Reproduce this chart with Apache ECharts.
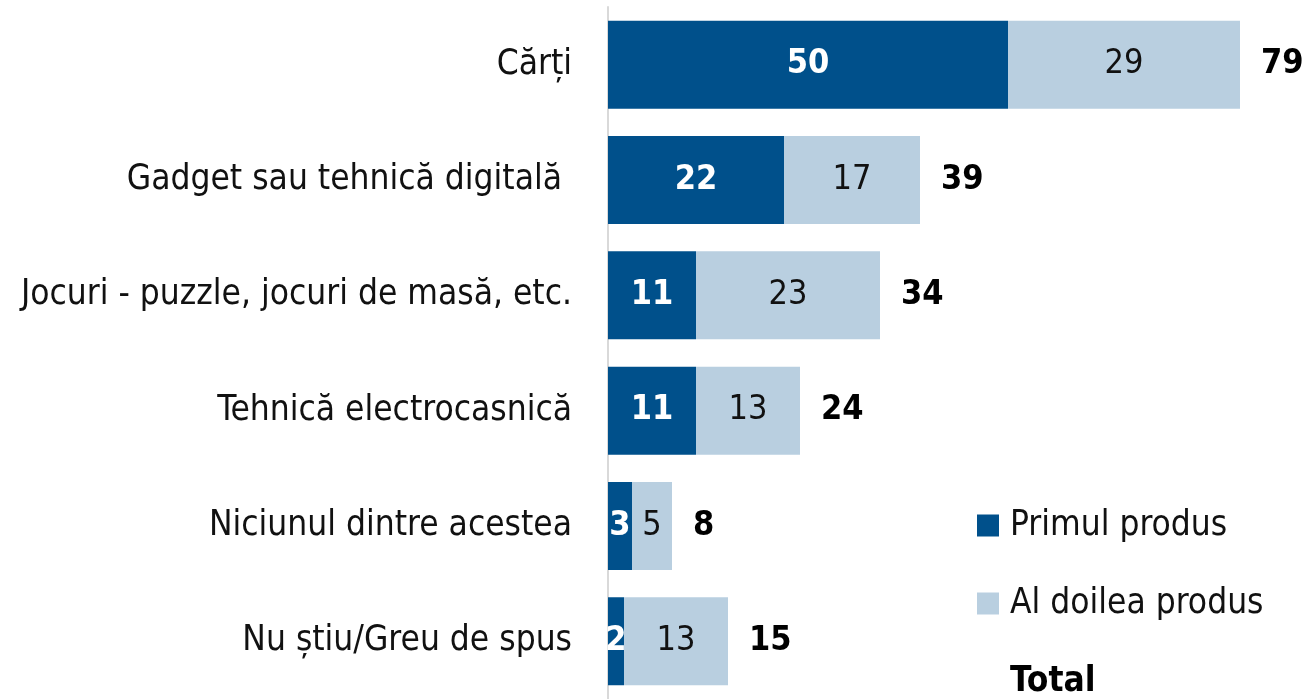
<!DOCTYPE html>
<html>
<head>
<meta charset="utf-8">
<script src="https://cdn.jsdelivr.net/npm/echarts@6/dist/echarts.min.js"></script>
<style>
  html, body { margin: 0; padding: 0; background: #fff; }
  #chart { width: 1307px; height: 699px; }
</style>
</head>
<body>
<div id="chart"></div>
<script>
const categories = [
  'Cărți',
  'Gadget sau tehnică digitală ',
  'Jocuri - puzzle, jocuri de masă, etc.',
  'Tehnică electrocasnică',
  'Niciunul dintre acestea',
  'Nu știu/Greu de spus'
];
const primulProdus = [50, 22, 11, 11, 3, 2];
const alDoileaProdus = [29, 17, 23, 13, 5, 13];
const totalValues = [79, 39, 34, 24, 8, 15];

const FONT = '"DejaVu Sans Condensed", "DejaVu Sans", sans-serif';
const DARK = '#00508b';
const LIGHT = '#b9cfe0';

const chart = echarts.init(document.getElementById('chart'), null, { renderer: 'canvas' });
chart.setOption({
  animation: false,
  textStyle: { fontFamily: FONT },
  grid: { left: 608, top: 7, width: 640, bottom: -8, containLabel: false },
  legend: {
    orient: 'vertical',
    left: 977,
    top: 508,
    height: 200,
    padding: 0,
    itemWidth: 22,
    itemHeight: 22,
    itemGap: 43,
    icon: 'rect',
    selectedMode: false,
    textStyle: { fontFamily: FONT, fontSize: 35, color: '#111', padding: [0, 0, 0, 6] },
    data: [
      { name: 'Primul produs' },
      { name: 'Al doilea produs' },
      { name: 'Total', itemStyle: { opacity: 0 }, textStyle: { fontWeight: 'bold', fontSize: 35, color: '#000', padding: [0, 0, 0, 6] } }
    ]
  },
  xAxis: {
    type: 'value',
    min: 0,
    max: 80,
    show: false
  },
  yAxis: {
    type: 'category',
    data: categories,
    inverse: true,
    axisLine: { show: true, lineStyle: { color: '#d9d9d9', width: 2 } },
    axisTick: { show: false },
    axisLabel: { fontFamily: FONT, fontSize: 35, color: '#111', margin: 36 }
  },
  series: [
    {
      // transparent full-length bar carrying the total label
      name: 'Total',
      type: 'bar',
      data: totalValues,
      barWidth: 88,
      barGap: '-100%',
      silent: true,
      itemStyle: { color: 'rgba(0,0,0,0)' },
      label: {
        show: true,
        position: 'right',
        distance: 21,
        fontFamily: FONT,
        fontSize: 34,
        fontWeight: 'bold',
        color: '#000'
      }
    },
    {
      name: 'Primul produs',
      type: 'bar',
      stack: 'produse',
      data: primulProdus,
      barWidth: 88,
      silent: true,
      itemStyle: { color: DARK },
      label: {
        show: true,
        position: 'inside',
        fontFamily: FONT,
        fontSize: 34,
        fontWeight: 'bold',
        color: '#fff'
      }
    },
    {
      name: 'Al doilea produs',
      type: 'bar',
      stack: 'produse',
      data: alDoileaProdus,
      barWidth: 88,
      silent: true,
      itemStyle: { color: LIGHT },
      label: {
        show: true,
        position: 'inside',
        fontFamily: FONT,
        fontSize: 34,
        color: '#111'
      }
    }
  ]
});
</script>
</body>
</html>
